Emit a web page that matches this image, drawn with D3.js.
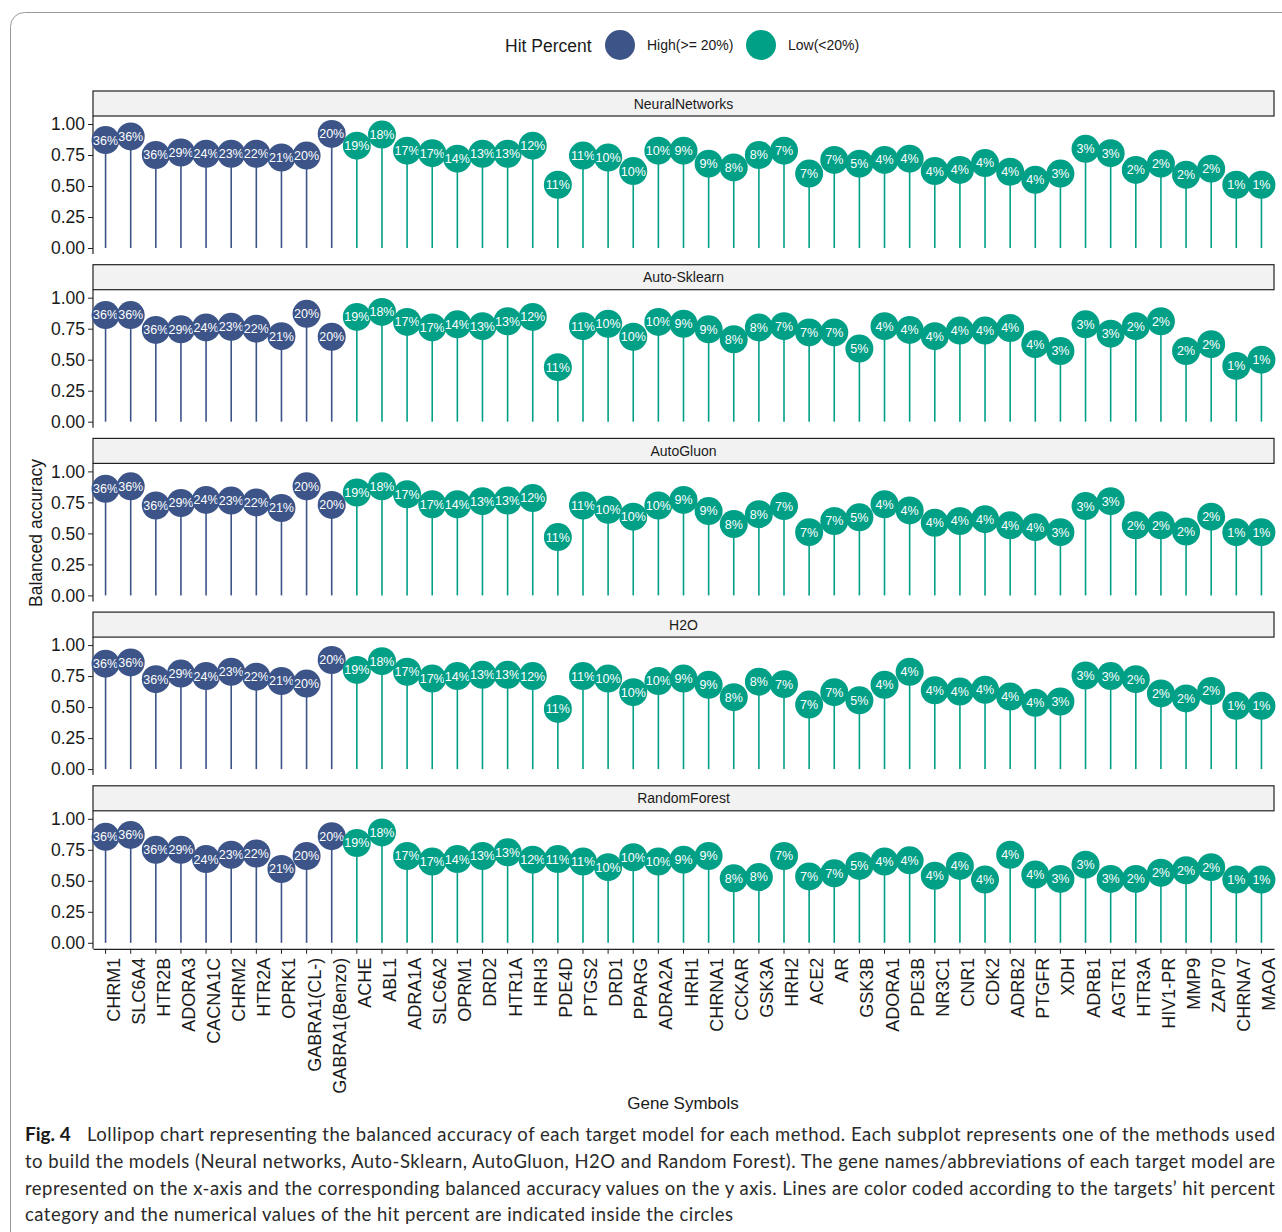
<!DOCTYPE html>
<html>
<head>
<meta charset="utf-8">
<script src="https://cdn.jsdelivr.net/npm/d3@7"></script>
<style>
  html, body { margin: 0; padding: 0; background: #fff; }
  svg { display: block; }
</style>
</head>
<body>
<svg id="chart" width="1282" height="1232"></svg>
<script>
// Target genes, ordered by hit percent
const genes = ["CHRM1","SLC6A4","HTR2B","ADORA3","CACNA1C","CHRM2","HTR2A","OPRK1",
  "GABRA1(CL-)","GABRA1(Benzo)","ACHE","ABL1","ADRA1A","SLC6A2","OPRM1","DRD2","HTR1A",
  "HRH3","PDE4D","PTGS2","DRD1","PPARG","ADRA2A","HRH1","CHRNA1","CCKAR","GSK3A","HRH2",
  "ACE2","AR","GSK3B","ADORA1","PDE3B","NR3C1","CNR1","CDK2","ADRB2","PTGFR","XDH",
  "ADRB1","AGTR1","HTR3A","HIV1-PR","MMP9","ZAP70","CHRNA7","MAOA"];

// Hit percent of each target (%)
const hitPercent = [36,36,36,29,24,23,22,21,20,20,19,18,17,17,14,13,13,12,11,11,10,10,10,9,9,
  8,8,7,7,7,5,4,4,4,4,4,4,4,3,3,3,2,2,2,2,1,1];

// Balanced accuracy per method
const nnAcc = [0.87,0.90,0.75,0.77,0.76,0.76,0.76,0.73,0.745,0.92,0.825,0.915,0.785,0.765,0.72,
  0.76,0.76,0.825,0.51,0.745,0.73,0.62,0.785,0.785,0.68,0.65,0.75,0.785,0.60,0.71,0.68,0.71,
  0.72,0.62,0.63,0.685,0.615,0.55,0.60,0.80,0.765,0.63,0.68,0.59,0.64,0.51,0.51];
const askAcc = [0.86,0.86,0.74,0.745,0.76,0.765,0.75,0.69,0.87,0.685,0.845,0.885,0.805,0.76,0.785,
  0.77,0.81,0.845,0.44,0.77,0.79,0.685,0.805,0.79,0.745,0.665,0.76,0.77,0.72,0.72,0.59,0.77,
  0.74,0.69,0.735,0.735,0.755,0.625,0.57,0.785,0.71,0.77,0.81,0.57,0.625,0.45,0.50];
const agAcc = [0.86,0.88,0.725,0.745,0.77,0.765,0.75,0.705,0.88,0.73,0.83,0.88,0.815,0.735,0.735,
  0.76,0.765,0.785,0.47,0.725,0.69,0.635,0.725,0.77,0.68,0.575,0.655,0.72,0.51,0.60,0.63,0.735,
  0.685,0.585,0.60,0.615,0.565,0.55,0.51,0.72,0.76,0.565,0.565,0.515,0.635,0.51,0.51];
const h2oAcc = [0.85,0.86,0.725,0.77,0.75,0.785,0.745,0.71,0.69,0.88,0.80,0.87,0.785,0.73,0.75,
  0.76,0.76,0.75,0.485,0.75,0.73,0.62,0.71,0.73,0.68,0.58,0.705,0.685,0.52,0.62,0.555,0.68,
  0.785,0.635,0.625,0.64,0.585,0.535,0.545,0.755,0.75,0.725,0.61,0.57,0.63,0.51,0.51];
const rfAcc = [0.855,0.87,0.75,0.75,0.675,0.71,0.72,0.595,0.70,0.86,0.805,0.89,0.70,0.655,0.675,
  0.70,0.73,0.67,0.675,0.655,0.61,0.69,0.655,0.67,0.70,0.52,0.53,0.70,0.535,0.56,0.62,0.655,
  0.665,0.54,0.62,0.51,0.71,0.55,0.515,0.63,0.515,0.515,0.565,0.585,0.61,0.51,0.51];

const methods = ["NeuralNetworks","Auto-Sklearn","AutoGluon","H2O","RandomForest"];
const accByMethod = [nnAcc, askAcc, agAcc, h2oAcc, rfAcc];
const yTicks = [0, 0.25, 0.5, 0.75, 1.0];

const categories = ["High(>= 20%)", "Low(<20%)"];
const catColor = d3.scaleOrdinal().domain(categories).range(["#3C5488", "#00A087"]);
const category = h => h >= 20 ? categories[0] : categories[1];

const svg = d3.select("#chart");
const FONT = "'Liberation Sans', Arial, Helvetica, sans-serif";

// Outer figure frame
svg.append("rect")
  .attr("x", 10.5).attr("y", 12.5).attr("width", 1320).attr("height", 1300)
  .attr("rx", 14).attr("fill", "none").attr("stroke", "#9a9a9a").attr("stroke-width", 1);

// Layout
const plotLeft = 93, plotRight = 1274;
const panelStep = 173.7;
const x = d3.scaleBand().domain(genes).range([plotLeft, plotRight]).padding(0);
const xc = g => x(g) + x.bandwidth() / 2;
const R = 14;

// Legend
const legend = svg.append("g").attr("font-family", FONT);
legend.append("text").attr("x", 505).attr("y", 51.5).attr("font-size", 17.5)
  .attr("fill", "#1a1a1a").text("Hit Percent");
const legendItems = [{c: categories[0], cx: 620, tx: 647}, {c: categories[1], cx: 761, tx: 788}];
legendItems.forEach(it => {
  legend.append("circle").attr("cx", it.cx).attr("cy", 45).attr("r", 15).attr("fill", catColor(it.c));
  legend.append("text").attr("x", it.tx).attr("y", 50).attr("font-size", 14)
    .attr("fill", "#1a1a1a").text(it.c);
});

methods.forEach((m, i) => {
  const acc = accByMethod[i];
  const off = i * panelStep;
  const stripTop = 91 + off, stripH = 25;
  const y = d3.scaleLinear().domain([0, 1]).range([248 + off, 124 + off]);
  const panelBottom = 248 + off + 6;
  const g = svg.append("g").attr("font-family", FONT);

  // Facet strip
  g.append("rect").attr("x", plotLeft).attr("y", stripTop).attr("width", plotRight - plotLeft)
    .attr("height", stripH).attr("fill", "#f2f2f2").attr("stroke", "#222").attr("stroke-width", 1.2);
  g.append("text").attr("x", (plotLeft + plotRight) / 2).attr("y", stripTop + stripH / 2 + 5)
    .attr("text-anchor", "middle").attr("font-size", 14).attr("fill", "#1a1a1a").text(m);

  // Y axis
  const yAxis = d3.axisLeft(y).tickValues(yTicks).tickFormat(d3.format(".2f")).tickSize(5).tickPadding(3);
  const ya = g.append("g").attr("transform", `translate(${plotLeft},0)`).call(yAxis);
  ya.select(".domain").remove();
  ya.selectAll(".tick line").attr("stroke", "#222");
  ya.selectAll(".tick text").attr("font-size", 17.5).attr("fill", "#1a1a1a").attr("font-family", FONT);
  g.append("line").attr("x1", plotLeft).attr("x2", plotLeft)
    .attr("y1", stripTop + stripH).attr("y2", panelBottom)
    .attr("stroke", "#222").attr("stroke-width", 1.2);

  // Sticks
  g.selectAll("line.stick").data(genes).join("line").attr("class", "stick")
    .attr("x1", d => xc(d)).attr("x2", d => xc(d))
    .attr("y1", y(0)).attr("y2", (d, j) => y(acc[j]))
    .attr("stroke", (d, j) => catColor(category(hitPercent[j]))).attr("stroke-width", 1.6);

  // Dots with hit percent labels
  const dots = g.selectAll("g.dot").data(genes).join("g").attr("class", "dot")
    .attr("transform", (d, j) => `translate(${xc(d)},${y(acc[j])})`);
  dots.append("circle").attr("r", R).attr("fill", (d, j) => catColor(category(hitPercent[j])));
  dots.append("text").attr("text-anchor", "middle").attr("y", 4.4)
    .attr("font-size", 12.5).attr("fill", "#fff")
    .text((d, j) => hitPercent[j] + "%");

  // X axis on the bottom panel only
  if (i === methods.length - 1) {
    const xAxisY = panelBottom;
    const xa = g.append("g").attr("transform", `translate(0,${xAxisY})`)
      .call(d3.axisBottom(x).tickSize(5).tickSizeOuter(0));
    xa.select(".domain").attr("stroke", "#222").attr("stroke-width", 1.2);
    xa.selectAll(".tick line").attr("stroke", "#222");
    xa.selectAll(".tick text")
      .attr("font-size", 18).attr("fill", "#1a1a1a").attr("font-family", FONT)
      .attr("text-anchor", "end").attr("dy", null).attr("y", null)
      .attr("transform", "translate(8,9) rotate(-90)")
      .attr("dominant-baseline", "central");
  }
});

// Axis titles
svg.append("text").attr("transform", "translate(42,533) rotate(-90)")
  .attr("text-anchor", "middle").attr("font-family", FONT).attr("font-size", 17.5)
  .attr("fill", "#1a1a1a").text("Balanced accuracy");
svg.append("text").attr("x", 683).attr("y", 1109).attr("text-anchor", "middle")
  .attr("font-family", FONT).attr("font-size", 17).attr("fill", "#1a1a1a").text("Gene Symbols");

// Caption
const capFont = "Lato, 'Open Sans', sans-serif";
const capLines = [
  {bold: "Fig. 4", text: "Lollipop chart representing the balanced accuracy of each target model for each method. Each subplot represents one of the methods used", w: 1250},
  {text: "to build the models (Neural networks, Auto-Sklearn, AutoGluon, H2O and Random Forest). The gene names/abbreviations of each target model are", w: 1250},
  {text: "represented on the x-axis and the corresponding balanced accuracy values on the y axis. Lines are color coded according to the targets\u2019 hit percent", w: 1250},
  {text: "category and the numerical values of the hit percent are indicated inside the circles", w: 708}
];
capLines.forEach((ln, k) => {
  const yy = 1141 + k * 26.8;
  if (ln.bold) {
    svg.append("text").attr("x", 25).attr("y", yy).attr("font-family", capFont)
      .attr("font-size", 19).attr("font-weight", "bold").attr("fill", "#1a1a1a").text(ln.bold);
    svg.append("text").attr("x", 87).attr("y", yy).attr("font-family", capFont)
      .attr("font-size", 18.5).attr("fill", "#2a2a2a")
      .attr("textLength", 1275 - 87).attr("lengthAdjust", "spacing").text(ln.text);
  } else {
    svg.append("text").attr("x", 25).attr("y", yy).attr("font-family", capFont)
      .attr("font-size", 18.5).attr("fill", "#2a2a2a")
      .attr("textLength", ln.w).attr("lengthAdjust", "spacing").text(ln.text);
  }
});
</script>
</body>
</html>
